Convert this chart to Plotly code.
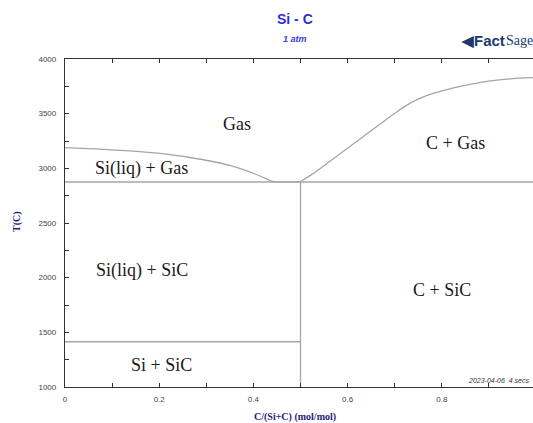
import plotly.graph_objects as go

# ---- data ----
x_liq_gas = [0, 0.074, 0.138, 0.202, 0.265, 0.308, 0.350, 0.386, 0.414, 0.442, 0.5]
t_liq_gas = [3189, 3175, 3159, 3136, 3099, 3067, 3026, 2976, 2930, 2879, 2878]

x_c_gas = [0.5, 0.525, 0.55, 0.575, 0.6, 0.625, 0.65, 0.675, 0.7, 0.725, 0.75, 0.775, 0.8, 0.825, 0.85, 0.875, 0.9, 0.95, 1.0]
t_c_gas = [2879, 2947, 3024, 3104, 3184, 3264, 3344, 3424, 3503, 3576, 3633, 3676, 3708, 3736, 3759, 3780, 3798, 3820, 3830]

x_peritectic = [0, 1]
t_peritectic = [2875, 2875]

x_sic = [0.5, 0.5]
t_sic = [1000, 2875]

x_si_melt = [0, 0.5]
t_si_melt = [1414, 1414]

labels = ["Gas", "Si(liq) + Gas", "C + Gas", "Si(liq) + SiC", "C + SiC", "Si + SiC"]
label_x = [0.365, 0.162, 0.83, 0.163, 0.80, 0.205]
label_t = [3410, 2994, 3229, 2064, 1890, 1202]

x_tickvals = [0, 0.1, 0.2, 0.3, 0.4, 0.5, 0.6, 0.7, 0.8, 0.9, 1.0]
x_ticktext = ["0", "", "0.2", "", "0.4", "", "0.6", "", "0.8", "", "1"]
y_tickvals = [1000, 1250, 1500, 1750, 2000, 2250, 2500, 2750, 3000, 3250, 3500, 3750, 4000]
y_ticktext = ["1000", "", "1500", "", "2000", "", "2500", "", "3000", "", "3500", "", "4000"]

line_color = "#a6a6a6"
fig = go.Figure()
for xs, ts in [(x_liq_gas, t_liq_gas), (x_c_gas, t_c_gas), (x_peritectic, t_peritectic),
               (x_sic, t_sic), (x_si_melt, t_si_melt)]:
    fig.add_trace(go.Scatter(x=xs, y=ts, mode="lines",
                             line=dict(color=line_color, width=1.3, shape="spline", smoothing=0.5),
                             hoverinfo="skip", showlegend=False))

# page pixel -> paper coordinate helpers (plot area: x 65..533(+), y 59..387 in page px)
def px(p):
    return (p - 65) / 468

def py(p):
    return (387 - p) / 328

annotations = []
for txt, lx, lt in zip(labels, label_x, label_t):
    annotations.append(dict(x=lx, y=lt, xref="x", yref="y", text=txt, showarrow=False,
                            font=dict(family="Liberation Serif", size=18, color="#1a1a1a")))

annotations.append(dict(x=px(295), xref="paper", y=py(19), yref="paper",
                        text="<b>Si - C</b>", showarrow=False, yanchor="middle",
                        font=dict(family="Liberation Sans", size=14, color="#2e2ed6")))
annotations.append(dict(x=px(295), xref="paper", y=py(38.5), yref="paper",
                        text="<b><i>1 atm</i></b>", showarrow=False, yanchor="middle",
                        font=dict(family="Liberation Sans", size=9, color="#3a3ad8")))
annotations.append(dict(x=px(295), xref="paper", y=py(417), yref="paper",
                        text="<b>C/(Si+C) (mol/mol)</b>", showarrow=False, yanchor="middle",
                        font=dict(family="Liberation Serif", size=10, color="#23237a")))
annotations.append(dict(x=px(17), xref="paper", y=py(222), yref="paper",
                        text="<b>T(C)</b>", showarrow=False, textangle=-90, xanchor="center", yanchor="middle",
                        font=dict(family="Liberation Serif", size=10, color="#23237a")))
# logo
annotations.append(dict(x=px(507), xref="paper", y=py(40), yref="paper",
                        text="<b>◀Fact</b>", showarrow=False, xanchor="right", yanchor="middle",
                        font=dict(family="Liberation Sans", size=15, color="#1d3a6e")))
annotations.append(dict(x=px(504), xref="paper", y=py(41), yref="paper",
                        text="Sage", showarrow=False, xanchor="left", yanchor="middle",
                        font=dict(family="Liberation Serif", size=14, color="#1d3a6e")))
annotations.append(dict(x=px(466), xref="paper", y=py(380), yref="paper",
                        text="<i>2023-04-06  4 secs</i>", showarrow=False, xanchor="left", yanchor="middle",
                        font=dict(family="Liberation Sans", size=7, color="#333333")))

fig.update_layout(
    width=533, height=423,
    margin=dict(l=65, r=0, t=59, b=36),
    paper_bgcolor="white", plot_bgcolor="white",
    annotations=annotations,
    xaxis=dict(range=[0, 468 / 471], tickvals=x_tickvals, ticktext=x_ticktext,
               ticks="inside", ticklen=4, tickcolor="#333", showline=True, linecolor="#333", linewidth=1.3,
               mirror="ticks", showgrid=False, zeroline=False, ticklabelstandoff=4,
               tickfont=dict(family="Liberation Sans", size=8, color="#444")),
    yaxis=dict(range=[1000, 4000], tickvals=y_tickvals, ticktext=y_ticktext,
               ticks="inside", ticklen=4, tickcolor="#333", showline=True, linecolor="#333", linewidth=1.3,
               mirror=False, showgrid=False, zeroline=False, ticklabelstandoff=6,
               tickfont=dict(family="Liberation Sans", size=8, color="#444")),
)

fig.write_html("out.html", config={"displayModeBar": False},
               post_script="document.body.style.margin='0';document.body.style.overflow='hidden';")
